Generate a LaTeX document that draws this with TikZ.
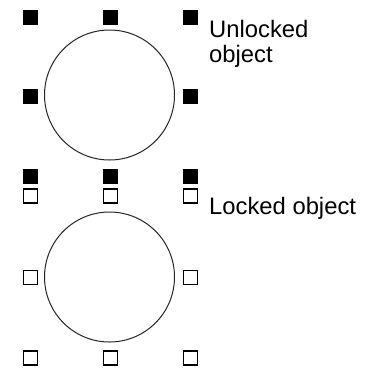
\documentclass[tikz,border=0pt]{standalone}
\usepackage{fontspec}
\setmainfont{Liberation Sans}
\begin{document}
\begin{tikzpicture}[x=1pt,y=-1pt,
  handle/.style={draw=black,fill=black,line width=0.6pt,minimum size=14pt,inner sep=0pt,outer sep=0pt},
  openhandle/.style={draw=black,fill=white,line width=1.3pt,minimum size=14pt,inner sep=0pt,outer sep=0pt},
  obj/.style={circle,draw=black!85,line width=1pt,minimum size=130pt,inner sep=0pt},
  lbl/.style={inner sep=0pt,font=\fontsize{23.8}{25.5}\selectfont,align=left}]
\useasboundingbox (0,0) rectangle (374,367);
% unlocked object
\node[obj] (c1) at (109.5,95) {};
\foreach \n/\x/\y in {a/30.5/17,b/110.5/17,c/190.5/17,d/30.5/96,e/190.5/96,f/30.5/176,g/110.5/176,h/190.5/176}
  \node[handle] (u\n) at (\x,\y) {};
\node[lbl,anchor=base west] (t1) at (209,62.5) {Unlocked\\object};
% locked object
\node[obj] (c2) at (109.5,277) {};
\foreach \n/\x/\y in {a/30.5/196,b/110.5/196,c/190.5/196,d/30.5/277.5,e/190.5/277.5,f/30.5/358,g/110.5/358,h/190.5/358}
  \node[openhandle] (l\n) at (\x,\y) {};
\node[lbl,anchor=base west] (t2) at (209,214) {Locked object};
\end{tikzpicture}
\end{document}
